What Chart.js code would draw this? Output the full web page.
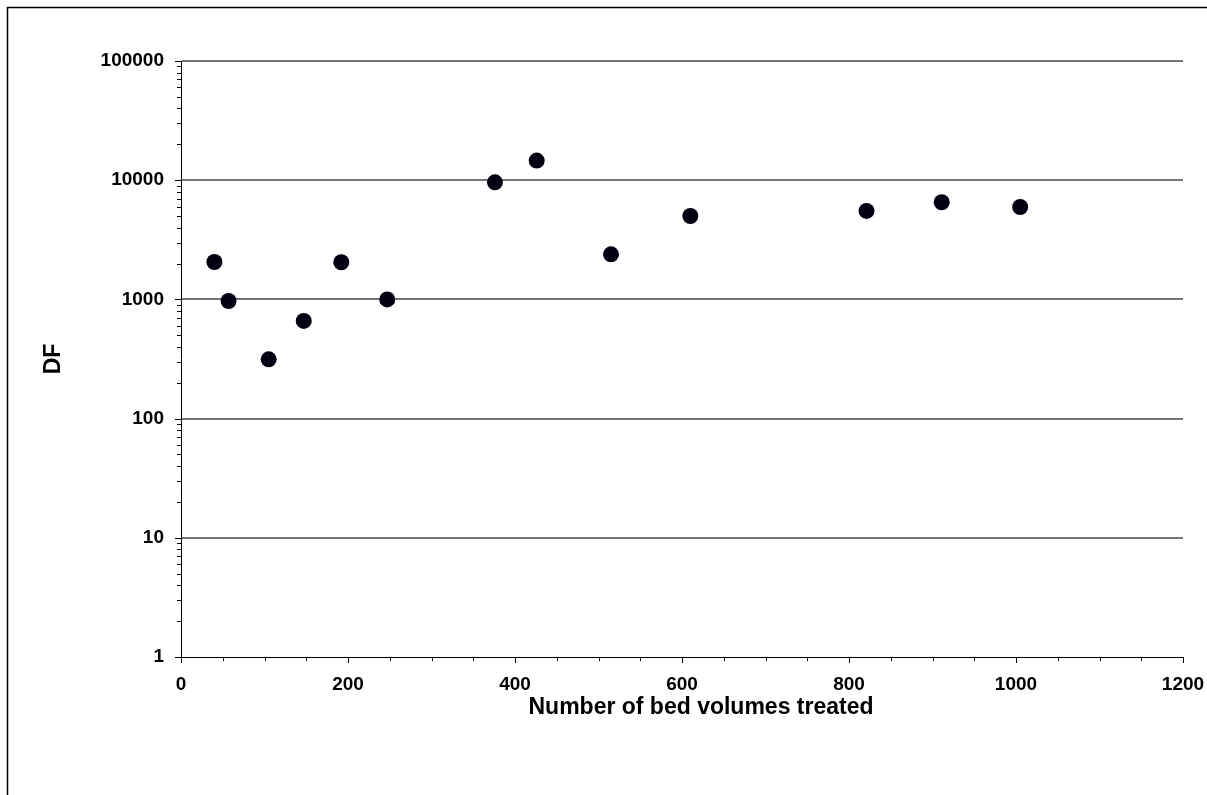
<!DOCTYPE html>
<html>
<head>
<meta charset="utf-8">
<script src="https://cdn.jsdelivr.net/npm/chart.js@4.4.1/dist/chart.umd.min.js"></script>
<style>
  html, body { margin: 0; padding: 0; background: #ffffff; }
  #wrap { width: 1207px; height: 795px; position: relative; }
</style>
</head>
<body>
<div id="wrap"><canvas id="c" width="1207" height="795"></canvas></div>
<script>
// Data
const bedVolumes = [40, 57, 105, 147, 192, 247, 376, 426, 515, 610, 821, 911, 1005];
const dfValues   = [2060, 970, 314, 660, 2050, 1000, 9600, 14600, 2390, 5010, 5520, 6530, 5960];

// Axis tick values
const xMajorTicks = [0, 200, 400, 600, 800, 1000, 1200];
const xMinorStep = 50;
const yMajorTicks = [1, 10, 100, 1000, 10000, 100000];

const xTitle = 'Number of bed volumes treated';
const yTitle = 'DF';

const FONT = '"Liberation Sans", Arial, sans-serif';

function isPow10(v) {
  const l = Math.log10(v);
  return Math.abs(l - Math.round(l)) < 1e-9;
}

const yAllTicks = [];
for (let k = 0; k < yMajorTicks.length - 1; k++) {
  for (let m = 1; m <= 9; m++) yAllTicks.push(m * yMajorTicks[k]);
}
yAllTicks.push(yMajorTicks[yMajorTicks.length - 1]);

const xAllTicks = [];
for (let v = xMajorTicks[0]; v <= xMajorTicks[xMajorTicks.length - 1]; v += xMinorStep) xAllTicks.push(v);

const decorations = {
  id: 'decorations',
  afterDraw(chart) {
    const ctx = chart.ctx;
    const xs = chart.scales.x, ys = chart.scales.y;
    const area = chart.chartArea;
    ctx.save();
    ctx.strokeStyle = '#000000';
    ctx.lineWidth = 1;
    ctx.beginPath();
    yAllTicks.forEach(v => {
      const y = Math.round(ys.getPixelForValue(v)) + 0.5;
      const len = isPow10(v) ? 6 : 4;
      ctx.moveTo(area.left - len, y);
      ctx.lineTo(area.left, y);
    });
    xAllTicks.forEach(v => {
      const x = Math.round(xs.getPixelForValue(v)) + 0.5;
      const len = xMajorTicks.includes(v) ? 6 : 4;
      ctx.moveTo(x, area.bottom);
      ctx.lineTo(x, area.bottom + len);
    });
    ctx.stroke();
    // outer chart frame (top and left visible)
    ctx.lineWidth = 1.5;
    ctx.beginPath();
    ctx.moveTo(7.5, 795);
    ctx.lineTo(7.5, 7.5);
    ctx.lineTo(1207, 7.5);
    ctx.stroke();
    // x axis title (sits slightly right of the plot centre, as in the original)
    ctx.fillStyle = '#000000';
    ctx.font = 'bold 23px ' + FONT;
    ctx.textAlign = 'center';
    ctx.textBaseline = 'middle';
    ctx.fillText(xTitle, (area.left + area.right) / 2 + 19, 708);
    ctx.restore();
  }
};

new Chart(document.getElementById('c'), {
  type: 'scatter',
  data: {
    datasets: [{
      data: bedVolumes.map((x, i) => ({ x: x, y: dfValues[i] })),
      backgroundColor: '#000010',
      borderColor: '#000010',
      pointRadius: 8,
      pointHoverRadius: 8,
      borderWidth: 0
    }]
  },
  options: {
    responsive: false,
    animation: false,
    devicePixelRatio: 1,
    layout: { padding: { top: 61, right: 24, left: 0, bottom: 0 } },
    plugins: { legend: { display: false }, tooltip: { enabled: false } },
    scales: {
      x: {
        type: 'linear',
        min: 0, max: 1200,
        afterBuildTicks: (s) => { s.ticks = xAllTicks.map(v => ({ value: v })); },
        afterFit: (s) => { s.height = 138; s.paddingLeft = 0; s.paddingRight = 0; },
        ticks: {
          autoSkip: false,
          maxRotation: 0,
          padding: 16,
          color: '#000000',
          font: { family: FONT, size: 19, weight: 'bold' },
          callback: (v) => xMajorTicks.includes(v) ? String(v) : ''
        },
        grid: { display: false, drawTicks: false },
        border: { display: true, color: '#000000', width: 1 },
        title: { display: false }
      },
      y: {
        type: 'logarithmic',
        min: 1, max: 100000,
        afterBuildTicks: (s) => { s.ticks = yAllTicks.map(v => ({ value: v })); },
        afterFit: (s) => { s.width = 181; s.paddingTop = 0; s.paddingBottom = 0; },
        ticks: {
          autoSkip: false,
          padding: 17,
          color: '#000000',
          font: { family: FONT, size: 19, weight: 'bold' },
          callback: (v) => isPow10(v) ? String(v) : ''
        },
        grid: {
          drawTicks: false,
          color: (c) => (c.tick && isPow10(c.tick.value) && c.tick.value > 1) ? '#767676' : 'rgba(0,0,0,0)',
          lineWidth: (c) => (c.tick && isPow10(c.tick.value)) ? 2 : 0
        },
        border: { display: true, color: '#000000', width: 1 },
        title: {
          display: true,
          text: yTitle,
          color: '#000000',
          font: { family: FONT, size: 23, weight: 'bold' },
          padding: { top: 40, bottom: 0 }
        }
      }
    }
  },
  plugins: [decorations]
});
</script>
</body>
</html>
